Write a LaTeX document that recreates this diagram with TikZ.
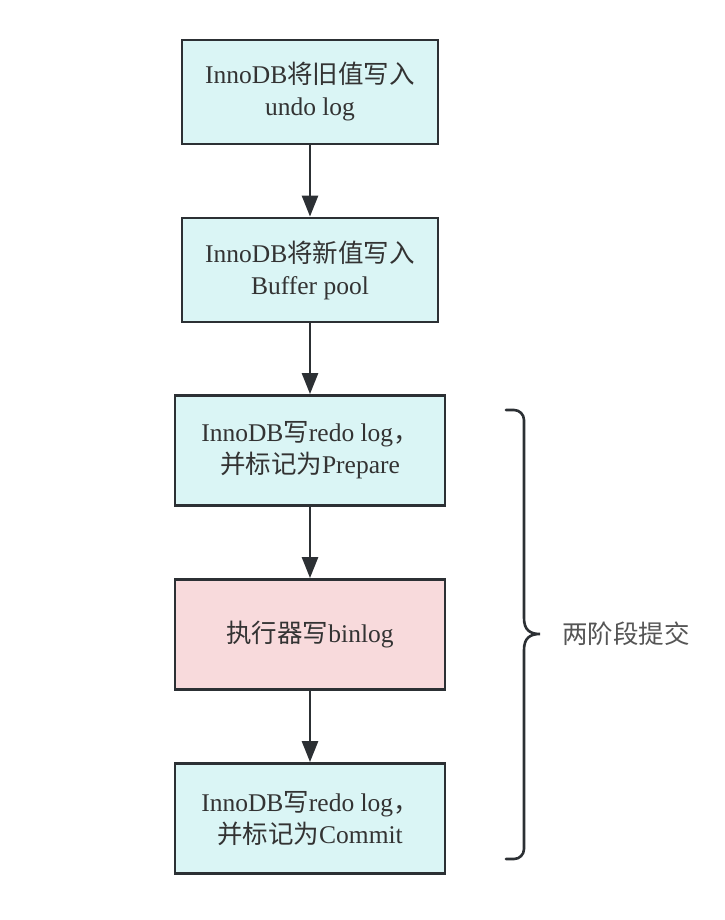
\documentclass[tikz,border=0pt]{standalone}
\usepackage{fontspec}
\setmainfont{Liberation Serif}
\newfontfamily\cjk{Noto Sans CJK SC}
\usetikzlibrary{arrows.meta}
\definecolor{boxcyan}{RGB}{218,245,245}
\definecolor{boxpink}{RGB}{248,218,220}
\definecolor{edge}{RGB}{44,48,52}
\definecolor{txt}{RGB}{51,51,51}
\definecolor{lbl}{RGB}{85,85,85}
\tikzset{
  stepbox/.style={draw=edge, line width=2.8pt, fill=boxcyan, minimum width=256pt, minimum height=104pt,
    align=center, text=txt, font=\fontsize{25.5pt}{32pt}\selectfont, inner sep=0pt},
  widebox/.style={stepbox, minimum width=270pt, minimum height=110pt},
  flow/.style={draw=edge, line width=2.6pt, -{Triangle[length=21pt,width=16pt]}},
}
\begin{document}
\begin{tikzpicture}[x=1pt,y=-1pt]
\useasboundingbox (0,0) rectangle (724,920);
\node[stepbox] (a) at (310,92) {InnoDB{\cjk 将旧值写入}\\undo log};
\node[stepbox] (b) at (310,270) {InnoDB{\cjk 将新值写入}\\Buffer pool};
\node[widebox] (c) at (310,450.5) {InnoDB{\cjk 写}redo log{\cjk ，}\\{\cjk 并标记为}Prepare};
\node[widebox, fill=boxpink] (d) at (310,634.5) {{\cjk 执行器写}binlog};
\node[widebox] (e) at (310,818.5) {InnoDB{\cjk 写}redo log{\cjk ，}\\{\cjk 并标记为}Commit};
\draw[flow] (a) -- (b);
\draw[flow] (b) -- (c);
\draw[flow] (c) -- (d);
\draw[flow] (d) -- (e);
\coordinate (tip) at (540,634);
\draw[draw=edge, line width=2.6pt, line cap=round]
  (506,410) -- (514,410) arc[start angle=90, end angle=0, radius=10pt]
  -- (524,618) .. controls (524,630) and (530,634) .. (tip)
  .. controls (530,634) and (524,638) .. (524,650)
  -- (524,849) arc[start angle=0, end angle=-90, radius=10pt] -- (506,859);
\node[anchor=west, text=lbl, font=\cjk\fontsize{25.5pt}{30pt}\selectfont, inner sep=0pt] (lab) at (562,634) {两阶段提交};
\end{tikzpicture}
\end{document}
